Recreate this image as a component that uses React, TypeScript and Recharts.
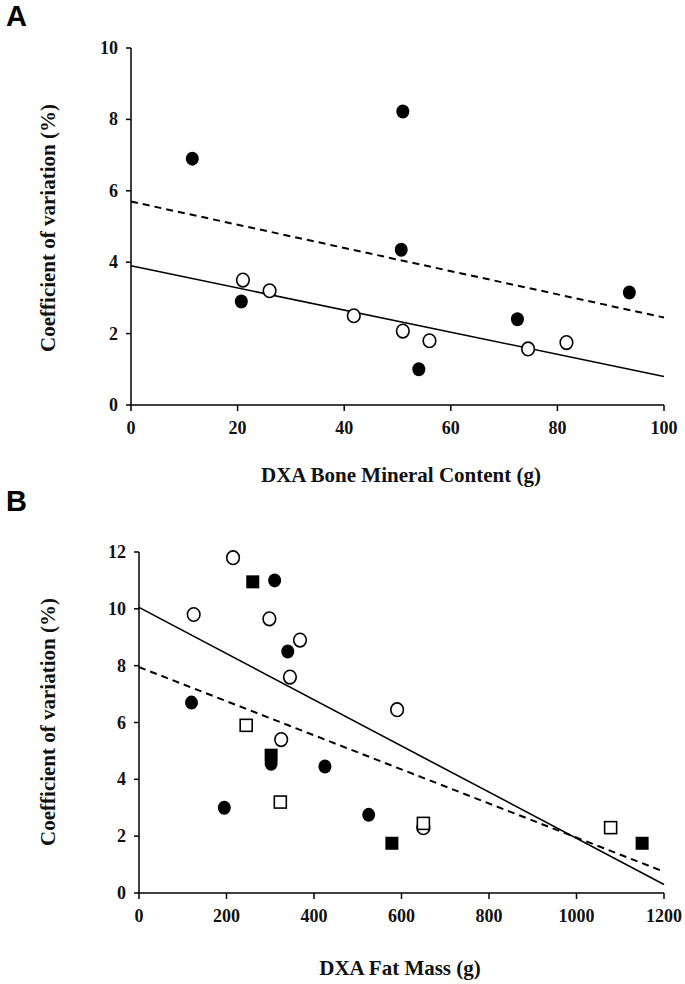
import React from 'react';
import { ScatterChart, Scatter, XAxis, YAxis } from 'recharts';

// Panel A: DXA bone mineral content vs CV
const bmcFilled = [
  { x: 11.5, y: 6.9 },
  { x: 20.7, y: 2.9 },
  { x: 50.7, y: 4.35 },
  { x: 51, y: 8.22 },
  { x: 54, y: 1.0 },
  { x: 72.5, y: 2.4 },
  { x: 93.5, y: 3.15 },
];
const bmcOpen = [
  { x: 21, y: 3.5 },
  { x: 26, y: 3.2 },
  { x: 41.8, y: 2.5 },
  { x: 51, y: 2.07 },
  { x: 56, y: 1.8 },
  { x: 74.5, y: 1.57 },
  { x: 81.7, y: 1.75 },
];
const bmcSolidLine = [{ x: 0, y: 3.9 }, { x: 100, y: 0.8 }];
const bmcDashedLine = [{ x: 0, y: 5.7 }, { x: 100, y: 2.45 }];
const bmcXTicks = [0, 20, 40, 60, 80, 100];
const bmcYTicks = [0, 2, 4, 6, 8, 10];

// Panel B: DXA fat mass vs CV
const fatOpenCircles = [
  { x: 215, y: 11.8 },
  { x: 125, y: 9.8 },
  { x: 298, y: 9.65 },
  { x: 368, y: 8.9 },
  { x: 345, y: 7.6 },
  { x: 590, y: 6.45 },
  { x: 325, y: 5.4 },
  { x: 650, y: 2.3 },
];
const fatFilledCircles = [
  { x: 310, y: 11.0 },
  { x: 340, y: 8.5 },
  { x: 120, y: 6.7 },
  { x: 302, y: 4.55 },
  { x: 425, y: 4.45 },
  { x: 195, y: 3.0 },
  { x: 525, y: 2.75 },
];
const fatFilledSquares = [
  { x: 260, y: 10.95 },
  { x: 302, y: 4.85 },
  { x: 578, y: 1.75 },
  { x: 1150, y: 1.75 },
];
const fatOpenSquares = [
  { x: 245, y: 5.9 },
  { x: 323, y: 3.2 },
  { x: 650, y: 2.45 },
  { x: 1078, y: 2.3 },
];
const fatSolidLine = [{ x: 0, y: 10.05 }, { x: 1200, y: 0.3 }];
const fatDashedLine = [{ x: 0, y: 7.95 }, { x: 1200, y: 0.75 }];
const fatXTicks = [0, 200, 400, 600, 800, 1000, 1200];
const fatYTicks = [0, 2, 4, 6, 8, 10, 12];

const serif = '"Liberation Serif", "DejaVu Serif", serif';

const XTick = (p: any) => (
  <text x={p.x} y={p.y + 21} textAnchor="middle" fontFamily={serif} fontWeight={700} fontSize={18} fill="#111">
    {p.payload.value}
  </text>
);
const YTick = (p: any) => (
  <text x={p.x - 6} y={p.y + 6} textAnchor="end" fontFamily={serif} fontWeight={700} fontSize={18} fill="#111">
    {p.payload.value}
  </text>
);

const FilledCircle = (p: any) => <ellipse cx={p.cx} cy={p.cy} rx={6.5} ry={7} fill="#000" />;
const OpenCircle = (p: any) => (
  <ellipse cx={p.cx} cy={p.cy} rx={6.3} ry={6.8} fill="#fff" stroke="#000" strokeWidth={1.6} />
);
const FilledSquare = (p: any) => <rect x={p.cx - 6.5} y={p.cy - 6.5} width={13} height={13} fill="#000" />;
const OpenSquare = (p: any) => (
  <rect x={p.cx - 6} y={p.cy - 6} width={12} height={12} fill="#fff" stroke="#000" strokeWidth={1.6} />
);
const NoDot = () => <g />;

const titleStyle: React.CSSProperties = {
  position: 'absolute',
  fontFamily: serif,
  fontWeight: 700,
  fontSize: 21,
  color: '#111',
  whiteSpace: 'nowrap',
};

const panelLetter: React.CSSProperties = {
  position: 'absolute',
  left: 6,
  fontFamily: '"Liberation Sans", Arial, sans-serif',
  fontWeight: 700,
  fontSize: 29,
  lineHeight: 1,
};

function YTitle({ cy }: { cy: number }) {
  return (
    <div
      style={{
        ...titleStyle,
        left: 48,
        top: cy,
        transform: 'translate(-50%, -50%) rotate(-90deg)',
      }}
    >
      Coefficient of variation (%)
    </div>
  );
}

export default function App() {
  return (
    <div style={{ position: 'absolute', left: 0, top: 0, width: 685, height: 984, background: '#fff' }}>
      <div style={{ ...panelLetter, top: 2 }}>A</div>
      <div style={{ ...panelLetter, top: 487 }}>B</div>

      <div style={{ position: 'absolute', left: 0, top: 0 }}>
        <ScatterChart width={685} height={480} margin={{ top: 48, right: 21, bottom: 45, left: 91 }}>
          <XAxis
            type="number"
            dataKey="x"
            domain={[0, 100]}
            ticks={bmcXTicks}
            height={30}
            stroke="#000"
            strokeWidth={1.5}
            tickSize={6}
            tick={XTick}
          />
          <YAxis
            type="number"
            dataKey="y"
            domain={[0, 10]}
            ticks={bmcYTicks}
            width={40}
            stroke="#000"
            strokeWidth={1.5}
            tickSize={5}
            tick={YTick}
          />
          <Scatter data={bmcDashedLine} line={{ stroke: '#000', strokeWidth: 2, strokeDasharray: '7 5' }} shape={NoDot} isAnimationActive={false} />
          <Scatter data={bmcSolidLine} line={{ stroke: '#000', strokeWidth: 1.6 }} shape={NoDot} isAnimationActive={false} />
          <Scatter data={bmcFilled} shape={FilledCircle} isAnimationActive={false} />
          <Scatter data={bmcOpen} shape={OpenCircle} isAnimationActive={false} />
        </ScatterChart>
      </div>
      <YTitle cy={228} />
      <div style={{ ...titleStyle, left: 401, top: 475, transform: 'translate(-50%, -50%)' }}>
        DXA Bone Mineral Content (g)
      </div>

      <div style={{ position: 'absolute', left: 0, top: 480 }}>
        <ScatterChart width={685} height={504} margin={{ top: 72, right: 21, bottom: 61, left: 99 }}>
          <XAxis
            type="number"
            dataKey="x"
            domain={[0, 1200]}
            ticks={fatXTicks}
            height={30}
            stroke="#000"
            strokeWidth={1.5}
            tickSize={6}
            tick={XTick}
          />
          <YAxis
            type="number"
            dataKey="y"
            domain={[0, 12]}
            ticks={fatYTicks}
            width={40}
            stroke="#000"
            strokeWidth={1.5}
            tickSize={5}
            tick={YTick}
          />
          <Scatter data={fatDashedLine} line={{ stroke: '#000', strokeWidth: 2, strokeDasharray: '7 5' }} shape={NoDot} isAnimationActive={false} />
          <Scatter data={fatSolidLine} line={{ stroke: '#000', strokeWidth: 1.6 }} shape={NoDot} isAnimationActive={false} />
          <Scatter data={fatOpenCircles} shape={OpenCircle} isAnimationActive={false} />
          <Scatter data={fatFilledCircles} shape={FilledCircle} isAnimationActive={false} />
          <Scatter data={fatFilledSquares} shape={FilledSquare} isAnimationActive={false} />
          <Scatter data={fatOpenSquares} shape={OpenSquare} isAnimationActive={false} />
        </ScatterChart>
      </div>
      <YTitle cy={722} />
      <div style={{ ...titleStyle, left: 400, top: 968, transform: 'translate(-50%, -50%)' }}>
        DXA Fat Mass (g)
      </div>
    </div>
  );
}
